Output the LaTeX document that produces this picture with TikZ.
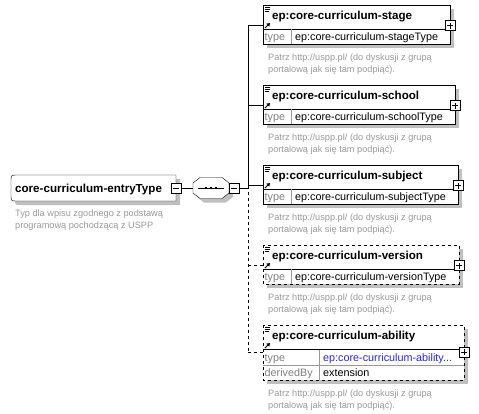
\documentclass[tikz,border=0pt]{standalone}
\usepackage{fontspec}
\setmainfont{Liberation Sans}
\usetikzlibrary{arrows,calc}
\definecolor{typelink}{RGB}{40,40,220}

\begin{document}
\begin{tikzpicture}[x=1pt,y=-1pt,
    shade box/.style={fill=black!25,draw=none},
    elemtitle/.style={anchor=base west,inner sep=0pt,font=\fontsize{11.6}{13}\selectfont\bfseries},
    typetext/.style={anchor=base west,inner sep=0pt,font=\fontsize{10.8}{13}\selectfont},
    rowlabel/.style={typetext,text=black!50},
    desc/.style={anchor=base west,inner sep=0pt,text=black!40,font=\fontsize{9.2}{11}\selectfont},
    expand/.style={draw,fill=white,minimum size=10pt,inner sep=0pt,
        path picture={\draw (path picture bounding box.center) ++(-3pt,0) -- ++(6pt,0)
            (path picture bounding box.center) ++(0,-3pt) -- ++(0,6pt);}},
    collapse/.style={draw,fill=white,minimum size=10pt,inner sep=0pt,
        path picture={\draw (path picture bounding box.center) ++(-3pt,0) -- ++(6pt,0);}}]

    \useasboundingbox (0,0) rectangle (479,413);

    % complex type
    \fill[shade box,shift={(4,4)}] (176,175) -- (17,175) .. controls (11,175) .. (11,181) -- (11,195)
        .. controls (11,201) .. (17,201) -- (176,201) -- cycle;
    \draw[fill=white] (176,175) -- (17,175) .. controls (11,175) .. (11,181) -- (11,195)
        .. controls (11,201) .. (17,201) -- (176,201) -- cycle;
    \node[elemtitle] at (15,192.5) {core-curriculum-entryType};
    \node[desc] at (15,216.5) {Typ dla wpisu zgodnego z podstawą};
    \node[desc] at (15,228) {programową pochodzącą z USPP};
    \node[collapse] (entry minus) at (176,188) {};

    % sequence
    \coordinate (seq) at (211,188);
    \coordinate (S) at (215,192);
    \fill[shade box] ($(S)+(-11,-10.5)$) -- ($(S)+(11,-10.5)$) -- ($(S)+(18,-5)$) -- ($(S)+(18,5)$)
        -- ($(S)+(11,10.5)$) -- ($(S)+(-11,10.5)$) -- ($(S)+(-18,5)$) -- ($(S)+(-18,-5)$) -- cycle;
    \draw[fill=white] ($(seq)+(-11,-10.5)$) -- ($(seq)+(11,-10.5)$) -- ($(seq)+(18,-5)$) -- ($(seq)+(18,5)$)
        -- ($(seq)+(11,10.5)$) -- ($(seq)+(-11,10.5)$) -- ($(seq)+(-18,5)$) -- ($(seq)+(-18,-5)$) -- cycle;
    \draw ($(seq)+(-13,0)$) -- ($(seq)+(13,0)$);
    \foreach \d in {-5,0,5}
        \fill ($(seq)+(\d-1.4,-1.4)$) rectangle ++(2.8,2.8);
    \coordinate (seq in) at ($(seq)+(-18,0)$);
    \node[collapse] (seq minus) at (234,188) {};
    \draw (entry minus) -- (seq in);

    \coordinate (trunk) at (248,188);

    % stage
    \coordinate (E) at (263,5);
    \fill[shade box] ($(E)+(4,4)$) rectangle ($(E)+(191,43)$);
    \draw[fill=white] (E) rectangle ($(E)+(187,39)$);
    \draw ($(E)+(0,24)$) -- ($(E)+(187,24)$);
    \draw[black!40] ($(E)+(28,24)$) -- ($(E)+(28,39)$);
    \draw[line width=0.7] ($(E)+(2,2)$) -- ++(5,0) ($(E)+(2,4)$) -- ++(5,0) ($(E)+(2,6)$) -- ++(4,0);
    \draw[line width=1] ($(E)+(2,23)$) -- ($(E)+(5,20)$);
    \fill ($(E)+(7,18)$) -- ($(E)+(3.3,18.7)$) -- ($(E)+(6.3,21.7)$) -- cycle;
    \node[elemtitle] at ($(E)+(9,14.5)$) {ep:core-curriculum-stage};
    \node[rowlabel] at ($(E)+(1.5,35.5)$) {type};
    \node[typetext] at ($(E)+(32,35.5)$) {ep:core-curriculum-stageType};
    \node[desc] at ($(E)+(5,55)$) {Patrz http://uspp.pl/ (do dyskusji z grupą};
    \node[desc] at ($(E)+(5,67)$) {portalową jak się tam podpiąć).};
    \node[expand] at ($(E)+(187,20.5)$) {};
    \coordinate (stage) at ($(E)+(0,20.5)$);

    % school
    \coordinate (E) at (263,85);
    \fill[shade box] ($(E)+(4,4)$) rectangle ($(E)+(196,43)$);
    \draw[fill=white] (E) rectangle ($(E)+(192,39)$);
    \draw ($(E)+(0,24)$) -- ($(E)+(192,24)$);
    \draw[black!40] ($(E)+(28,24)$) -- ($(E)+(28,39)$);
    \draw[line width=0.7] ($(E)+(2,2)$) -- ++(5,0) ($(E)+(2,4)$) -- ++(5,0) ($(E)+(2,6)$) -- ++(4,0);
    \draw[line width=1] ($(E)+(2,23)$) -- ($(E)+(5,20)$);
    \fill ($(E)+(7,18)$) -- ($(E)+(3.3,18.7)$) -- ($(E)+(6.3,21.7)$) -- cycle;
    \node[elemtitle] at ($(E)+(9,14.5)$) {ep:core-curriculum-school};
    \node[rowlabel] at ($(E)+(1.5,35.5)$) {type};
    \node[typetext] at ($(E)+(32,35.5)$) {ep:core-curriculum-schoolType};
    \node[desc] at ($(E)+(5,55)$) {Patrz http://uspp.pl/ (do dyskusji z grupą};
    \node[desc] at ($(E)+(5,67)$) {portalową jak się tam podpiąć).};
    \node[expand] at ($(E)+(192,20.5)$) {};
    \coordinate (school) at ($(E)+(0,20.5)$);

    % subject
    \coordinate (E) at (263,165);
    \fill[shade box] ($(E)+(4,4)$) rectangle ($(E)+(199,43)$);
    \draw[fill=white] (E) rectangle ($(E)+(195,39)$);
    \draw ($(E)+(0,24)$) -- ($(E)+(195,24)$);
    \draw[black!40] ($(E)+(28,24)$) -- ($(E)+(28,39)$);
    \draw[line width=0.7] ($(E)+(2,2)$) -- ++(5,0) ($(E)+(2,4)$) -- ++(5,0) ($(E)+(2,6)$) -- ++(4,0);
    \draw[line width=1] ($(E)+(2,23)$) -- ($(E)+(5,20)$);
    \fill ($(E)+(7,18)$) -- ($(E)+(3.3,18.7)$) -- ($(E)+(6.3,21.7)$) -- cycle;
    \node[elemtitle] at ($(E)+(9,14.5)$) {ep:core-curriculum-subject};
    \node[rowlabel] at ($(E)+(1.5,35.5)$) {type};
    \node[typetext] at ($(E)+(32,35.5)$) {ep:core-curriculum-subjectType};
    \node[desc] at ($(E)+(5,55)$) {Patrz http://uspp.pl/ (do dyskusji z grupą};
    \node[desc] at ($(E)+(5,67)$) {portalową jak się tam podpiąć).};
    \node[expand] at ($(E)+(195,20.5)$) {};
    \coordinate (subject) at ($(E)+(0,20.5)$);

    % version (optional)
    \coordinate (E) at (263,245);
    \fill[shade box] ($(E)+(4,4)$) rectangle ($(E)+(200,43)$);
    \draw[dashed,fill=white] (E) rectangle ($(E)+(196,39)$);
    \draw ($(E)+(0,24)$) -- ($(E)+(196,24)$);
    \draw[black!40] ($(E)+(28,24)$) -- ($(E)+(28,39)$);
    \draw[line width=0.7] ($(E)+(2,2)$) -- ++(5,0) ($(E)+(2,4)$) -- ++(5,0) ($(E)+(2,6)$) -- ++(4,0);
    \draw[line width=1] ($(E)+(2,23)$) -- ($(E)+(5,20)$);
    \fill ($(E)+(7,18)$) -- ($(E)+(3.3,18.7)$) -- ($(E)+(6.3,21.7)$) -- cycle;
    \node[elemtitle] at ($(E)+(9,14.5)$) {ep:core-curriculum-version};
    \node[rowlabel] at ($(E)+(1.5,35.5)$) {type};
    \node[typetext] at ($(E)+(32,35.5)$) {ep:core-curriculum-versionType};
    \node[desc] at ($(E)+(5,55)$) {Patrz http://uspp.pl/ (do dyskusji z grupą};
    \node[desc] at ($(E)+(5,67)$) {portalową jak się tam podpiąć).};
    \node[expand] at ($(E)+(196,20.5)$) {};
    \coordinate (version) at ($(E)+(0,20.5)$);

    % ability (optional)
    \coordinate (E) at (263,325);
    \fill[shade box] ($(E)+(4,4)$) rectangle ($(E)+(205,59)$);
    \draw[dashed,fill=white] (E) rectangle ($(E)+(201,55)$);
    \draw ($(E)+(0,24.5)$) -- ($(E)+(201,24.5)$);
    \draw[black!40] ($(E)+(0,40)$) -- ($(E)+(201,40)$);
    \draw[black!40] ($(E)+(56,24.5)$) -- ($(E)+(56,55)$);
    \draw[line width=0.7] ($(E)+(2,2)$) -- ++(5,0) ($(E)+(2,4)$) -- ++(5,0) ($(E)+(2,6)$) -- ++(4,0);
    \draw[line width=1] ($(E)+(2,23)$) -- ($(E)+(5,20)$);
    \fill ($(E)+(7,18)$) -- ($(E)+(3.3,18.7)$) -- ($(E)+(6.3,21.7)$) -- cycle;
    \node[elemtitle] at ($(E)+(9,14.5)$) {ep:core-curriculum-ability};
    \node[rowlabel] at ($(E)+(1.5,36)$) {type};
    \node[typetext,text=typelink] at ($(E)+(60,36)$) {ep:core-curriculum-ability...};
    \node[rowlabel] at ($(E)+(1.5,51.5)$) {derivedBy};
    \node[typetext] at ($(E)+(60,51.5)$) {extension};
    \node[desc] at ($(E)+(5,71)$) {Patrz http://uspp.pl/ (do dyskusji z grupą};
    \node[desc] at ($(E)+(5,83)$) {portalową jak się tam podpiąć).};
    \node[expand] at ($(E)+(201,27)$) {};
    \coordinate (ability) at ($(E)+(0,27)$);

    % connectors
    \draw (seq minus) -- (trunk);
    \draw (trunk |- stage) -- (trunk |- subject);
    \draw[dashed] (trunk |- subject) -- (trunk |- ability);
    \draw (trunk |- stage) -- (stage);
    \draw (trunk |- school) -- (school);
    \draw (trunk |- subject) -- (subject);
    \draw[dashed] (trunk |- version) -- (version);
    \draw[dashed] (trunk |- ability) -- (ability);
\end{tikzpicture}
\end{document}
